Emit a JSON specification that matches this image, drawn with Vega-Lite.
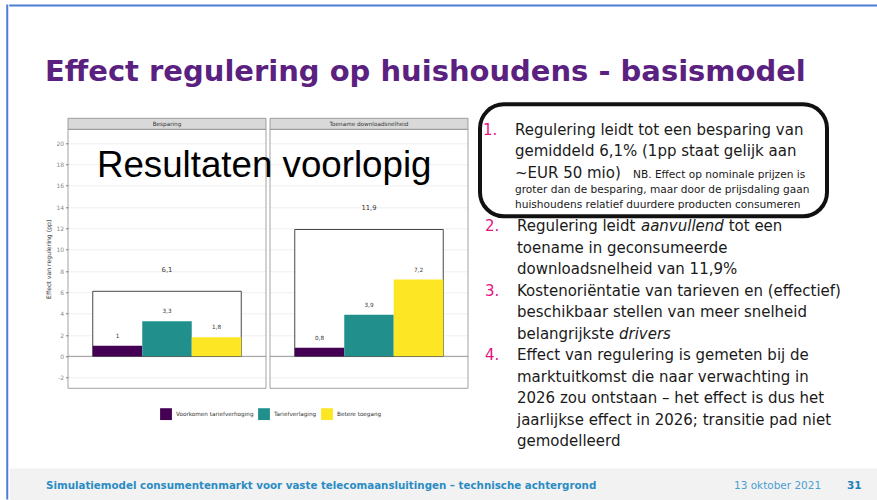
{
  "$schema": "https://vega.github.io/schema/vega-lite/v6.json",
  "background": "white",
  "padding": {"left": 6, "top": 4.3, "right": 0, "bottom": 0},
  "config": {
    "view": {"stroke": null},
    "font": "DejaVu Sans",
    "locale": {"number": {"decimal": ",", "thousands": ".", "grouping": [3], "currency": ["€", ""], "minus": "-"}}
  },
  "datasets": {
    "effecten": [
      {"paneel": "Besparing", "component": "Voorkomen tariefverhoging", "waarde": 1},
      {"paneel": "Besparing", "component": "Tariefverlaging", "waarde": 3.3},
      {"paneel": "Besparing", "component": "Betere toegang", "waarde": 1.8},
      {"paneel": "Toename downloadsnelheid", "component": "Voorkomen tariefverhoging", "waarde": 0.8},
      {"paneel": "Toename downloadsnelheid", "component": "Tariefverlaging", "waarde": 3.9},
      {"paneel": "Toename downloadsnelheid", "component": "Betere toegang", "waarde": 7.2}
    ],
    "punt1": [
      {"regel": 1, "tekst": "Regulering leidt tot een besparing van"},
      {"regel": 2, "tekst": "gemiddeld 6,1% (1pp staat gelijk aan"},
      {"regel": 3, "tekst": "~EUR 50 mio)"}
    ],
    "noot": [
      {"regel": 1, "tekst": "NB. Effect op nominale prijzen is"},
      {"regel": 2, "tekst": "groter dan de besparing, maar door de prijsdaling gaan"},
      {"regel": 3, "tekst": "huishoudens relatief duurdere producten consumeren"}
    ],
    "nummers": [
      {"nr": "1.", "regel": 1},
      {"nr": "2.", "regel": 1},
      {"nr": "3.", "regel": 4},
      {"nr": "4.", "regel": 7}
    ],
    "punten": [
      {"regel": 1, "deel": 1, "tekst": "Regulering leidt"},
      {"regel": 1, "deel": 2, "tekst": "aanvullend"},
      {"regel": 1, "deel": 3, "tekst": "tot een"},
      {"regel": 2, "deel": 1, "tekst": "toename in geconsumeerde"},
      {"regel": 3, "deel": 1, "tekst": "downloadsnelheid van 11,9%"},
      {"regel": 4, "deel": 1, "tekst": "Kostenoriëntatie van tarieven en (effectief)"},
      {"regel": 5, "deel": 1, "tekst": "beschikbaar stellen van meer snelheid"},
      {"regel": 6, "deel": 1, "tekst": "belangrijkste"},
      {"regel": 6, "deel": 2, "tekst": "drivers"},
      {"regel": 7, "deel": 1, "tekst": "Effect van regulering is gemeten bij de"},
      {"regel": 8, "deel": 1, "tekst": "marktuitkomst die naar verwachting in"},
      {"regel": 9, "deel": 1, "tekst": "2026 zou ontstaan – het effect is dus het"},
      {"regel": 10, "deel": 1, "tekst": "jaarlijkse effect in 2026; transitie pad niet"},
      {"regel": 11, "deel": 1, "tekst": "gemodelleerd"}
    ],
    "voet": [
      {"deel": "titel", "tekst": "Simulatiemodel consumentenmarkt voor vaste telecomaansluitingen – technische achtergrond"},
      {"deel": "datum", "tekst": "13 oktober 2021"},
      {"deel": "pagina", "tekst": "31"}
    ]
  },
  "spacing": 0,
  "hconcat": [
    {"width": 0.5, "height": 493.5, "view": {"stroke": "#4a7dd3", "strokeWidth": 1.5}, "data": {"values": []}, "mark": "rule", "encoding": {}},
    {
      "spacing": 50,
      "vconcat": [
        {"width": 867, "height": 0.5, "view": {"stroke": "#4a7dd3", "strokeWidth": 1.5}, "data": {"values": []}, "mark": "rule", "encoding": {}},
        {
          "spacing": 17.3,
          "vconcat": [
            {
              "title": {"text": "Effect regulering op huishoudens - basismodel", "anchor": "start", "frame": "group", "font": "DejaVu Sans", "fontSize": 29, "fontWeight": "bold", "color": "#5b2180", "dx": 35, "offset": 15.7},
              "spacing": 9,
              "hconcat": [
                {"width": 26, "height": 10, "data": {"values": []}, "mark": "rule", "encoding": {}},
                {
                  "data": {"name": "effecten"},
                  "bounds": "flush",
                  "facet": {"column": {"field": "paneel", "type": "nominal", "header": null, "sort": ["Besparing", "Toename downloadsnelheid"]}},
                  "spacing": 4,
                  "spec": {
                    "width": 198,
                    "height": 284,
                    "layer": [
                      {
                        "transform": [{"filter": "datum.component == 'Tariefverlaging'"}],
                        "mark": {"type": "rect", "fillOpacity": 0, "stroke": "#8c8c8c", "strokeWidth": 0.8},
                        "encoding": {"y": {"datum": -3, "type": "quantitative"}, "y2": {"datum": 21.3}}
                      },
                      {
                        "transform": [{"filter": "datum.component == 'Tariefverlaging'"}],
                        "mark": {"type": "rect", "fill": "#d9d9d9", "stroke": "#8c8c8c", "strokeWidth": 0.8},
                        "encoding": {"y": {"datum": 21.3, "type": "quantitative"}, "y2": {"datum": 22.33}}
                      },
                      {
                        "transform": [{"filter": "datum.component == 'Tariefverlaging'"}],
                        "mark": {"type": "text", "fontSize": 5.7, "color": "#333333", "baseline": "middle"},
                        "encoding": {"text": {"field": "paneel"}, "y": {"datum": 21.815, "type": "quantitative"}}
                      },
                      {
                        "transform": [{"filter": "datum.component == 'Tariefverlaging'"}],
                        "mark": {"type": "rule", "color": "#8c8c8c", "strokeWidth": 0.9},
                        "encoding": {"y": {"datum": 0, "type": "quantitative"}}
                      },
                      {
                        "transform": [
                          {"joinaggregate": [{"op": "sum", "field": "waarde", "as": "totaal"}], "groupby": ["paneel"]},
                          {"filter": "datum.component == 'Tariefverlaging'"}
                        ],
                        "mark": {"type": "bar", "width": {"band": 3}, "fill": "white", "stroke": "#333333", "strokeWidth": 0.9},
                        "encoding": {
                          "x": {"field": "component", "type": "nominal", "scale": {"domain": ["Voorkomen tariefverhoging", "Tariefverlaging", "Betere toegang"], "paddingInner": 0, "paddingOuter": 0.5}, "axis": null},
                          "y": {"field": "totaal", "type": "quantitative", "title": "Effect van regulering (pp)"}
                        }
                      },
                      {
                        "mark": {"type": "bar"},
                        "encoding": {
                          "x": {"field": "component", "type": "nominal", "scale": {"domain": ["Voorkomen tariefverhoging", "Tariefverlaging", "Betere toegang"], "paddingInner": 0, "paddingOuter": 0.5}, "axis": null},
                          "y": {
                            "field": "waarde", "type": "quantitative", "title": "Effect van regulering (pp)",
                            "scale": {"domain": [-3, 21.3], "range": [284, 25], "nice": false, "zero": false},
                            "axis": {"values": [-2, 0, 2, 4, 6, 8, 10, 12, 14, 16, 18, 20], "tickCount": 20, "labelOverlap": false, "grid": true, "gridColor": "#ebebeb", "gridWidth": 0.8, "domain": false, "ticks": true, "tickSize": 2.5, "tickColor": "#555555", "tickWidth": 0.8, "labelFontSize": 6, "labelColor": "#8a8a8a", "labelPadding": 2, "titleFontSize": 6.2, "titleFontWeight": "normal", "titleColor": "#333333", "titlePadding": 4}
                          },
                          "color": {
                            "field": "component", "type": "nominal",
                            "scale": {"domain": ["Voorkomen tariefverhoging", "Tariefverlaging", "Betere toegang"], "range": ["#440154", "#21908c", "#fde725"]},
                            "legend": {"orient": "none", "legendX": 153, "legendY": 402.8, "direction": "horizontal", "title": null, "symbolType": "square", "symbolSize": 140, "symbolStrokeWidth": 0, "symbolOpacity": 1, "labelFontSize": 5.7, "labelColor": "#333333", "labelOffset": 4, "columnPadding": 4}
                          }
                        }
                      },
                      {
                        "mark": {"type": "text", "fontSize": 5.7, "color": "#333333", "baseline": "middle", "dy": -10},
                        "encoding": {
                          "x": {"field": "component", "type": "nominal", "scale": {"domain": ["Voorkomen tariefverhoging", "Tariefverlaging", "Betere toegang"], "paddingInner": 0, "paddingOuter": 0.5}, "axis": null},
                          "y": {"field": "waarde", "type": "quantitative"},
                          "text": {"field": "waarde", "type": "quantitative", "format": "~g"}
                        }
                      },
                      {
                        "transform": [
                          {"joinaggregate": [{"op": "sum", "field": "waarde", "as": "totaal"}], "groupby": ["paneel"]},
                          {"filter": "datum.component == 'Tariefverlaging'"}
                        ],
                        "mark": {"type": "text", "fontSize": 6.8, "color": "#333333", "baseline": "middle", "dy": -21},
                        "encoding": {
                          "x": {"field": "component", "type": "nominal", "scale": {"domain": ["Voorkomen tariefverhoging", "Tariefverlaging", "Betere toegang"], "paddingInner": 0, "paddingOuter": 0.5}, "axis": null},
                          "y": {"field": "totaal", "type": "quantitative"},
                          "text": {"field": "totaal", "type": "quantitative", "format": "~g"}
                        }
                      },
                      {
                        "transform": [{"filter": "datum.paneel == 'Toename downloadsnelheid' && datum.component == 'Tariefverlaging'"}],
                        "mark": {"type": "text", "text": "Resultaten voorlopig", "font": "Liberation Sans", "fontSize": 36.7, "color": "#000000", "align": "center", "baseline": "alphabetic", "dx": -104.8},
                        "encoding": {"y": {"datum": 16.87, "type": "quantitative"}}
                      }
                    ]
                  }
                },
                {
                  "spacing": 0,
                  "vconcat": [
                    {
                      "width": 347,
                      "height": 112,
                      "view": {"stroke": "#111111", "strokeWidth": 4, "cornerRadius": 24},
                      "resolve": {"scale": {"y": "independent"}},
                      "layer": [
                        {
                          "data": {"name": "nummers"},
                          "transform": [{"filter": "datum.nr == '1.'"}],
                          "mark": {"type": "text", "align": "left", "baseline": "alphabetic", "fontSize": 15, "color": "#e5137f"},
                          "encoding": {
                            "text": {"field": "nr"},
                            "x": {"datum": 3, "type": "quantitative", "scale": {"domain": [0, 347], "nice": false}, "axis": null},
                            "y": {"field": "regel", "type": "quantitative", "scale": {"domain": [1, 3], "range": [30.3, 73.3], "nice": false, "zero": false}, "axis": null}
                          }
                        },
                        {
                          "data": {"name": "punt1"},
                          "mark": {"type": "text", "align": "left", "baseline": "alphabetic", "fontSize": 15, "color": "#1a1a1a"},
                          "encoding": {
                            "text": {"field": "tekst"},
                            "x": {"datum": 35, "type": "quantitative", "scale": {"domain": [0, 347], "nice": false}, "axis": null},
                            "y": {"field": "regel", "type": "quantitative", "scale": {"domain": [1, 3], "range": [30.3, 73.3], "nice": false, "zero": false}, "axis": null}
                          }
                        },
                        {
                          "data": {"name": "noot"},
                          "transform": [{"filter": "datum.regel == 1"}],
                          "mark": {"type": "text", "align": "left", "baseline": "alphabetic", "fontSize": 10.6, "color": "#1a1a1a"},
                          "encoding": {
                            "text": {"field": "tekst"},
                            "x": {"datum": 153, "type": "quantitative", "scale": {"domain": [0, 347], "nice": false}, "axis": null},
                            "y": {"field": "regel", "type": "quantitative", "scale": {"domain": [1, 3], "range": [73.3, 103.3], "nice": false, "zero": false}, "axis": null}
                          }
                        },
                        {
                          "data": {"name": "noot"},
                          "transform": [{"filter": "datum.regel > 1"}],
                          "mark": {"type": "text", "align": "left", "baseline": "alphabetic", "fontSize": 10.6, "color": "#1a1a1a"},
                          "encoding": {
                            "text": {"field": "tekst"},
                            "x": {"datum": 35, "type": "quantitative", "scale": {"domain": [0, 347], "nice": false}, "axis": null},
                            "y": {"field": "regel", "type": "quantitative", "scale": {"domain": [1, 3], "range": [73.3, 103.3], "nice": false, "zero": false}, "axis": null}
                          }
                        }
                      ]
                    },
                    {
                      "width": 347,
                      "height": 233,
                      "layer": [
                        {
                          "data": {"name": "nummers"},
                          "transform": [{"filter": "datum.nr != '1.'"}],
                          "mark": {"type": "text", "align": "left", "baseline": "alphabetic", "fontSize": 15, "color": "#e5137f"},
                          "encoding": {
                            "text": {"field": "nr"},
                            "x": {"datum": 5, "type": "quantitative", "scale": {"domain": [0, 347], "nice": false}, "axis": null},
                            "y": {"field": "regel", "type": "quantitative", "scale": {"domain": [1, 11], "range": [13, 228], "nice": false, "zero": false}, "axis": null}
                          }
                        },
                        {
                          "data": {"name": "punten"},
                          "transform": [{"filter": "datum.deel == 1"}],
                          "mark": {"type": "text", "align": "left", "baseline": "alphabetic", "fontSize": 15, "color": "#1a1a1a"},
                          "encoding": {
                            "text": {"field": "tekst"},
                            "x": {"datum": 37, "type": "quantitative", "scale": {"domain": [0, 347], "nice": false}, "axis": null},
                            "y": {"field": "regel", "type": "quantitative", "scale": {"domain": [1, 11], "range": [13, 228], "nice": false, "zero": false}, "axis": null}
                          }
                        },
                        {
                          "data": {"name": "punten"},
                          "transform": [{"filter": "datum.regel == 1 && datum.deel == 2"}],
                          "mark": {"type": "text", "align": "left", "baseline": "alphabetic", "fontSize": 15, "fontStyle": "italic", "color": "#1a1a1a"},
                          "encoding": {
                            "text": {"field": "tekst"},
                            "x": {"datum": 161, "type": "quantitative", "scale": {"domain": [0, 347], "nice": false}, "axis": null},
                            "y": {"field": "regel", "type": "quantitative", "scale": {"domain": [1, 11], "range": [13, 228], "nice": false, "zero": false}, "axis": null}
                          }
                        },
                        {
                          "data": {"name": "punten"},
                          "transform": [{"filter": "datum.regel == 1 && datum.deel == 3"}],
                          "mark": {"type": "text", "align": "left", "baseline": "alphabetic", "fontSize": 15, "color": "#1a1a1a"},
                          "encoding": {
                            "text": {"field": "tekst"},
                            "x": {"datum": 248.7, "type": "quantitative", "scale": {"domain": [0, 347], "nice": false}, "axis": null},
                            "y": {"field": "regel", "type": "quantitative", "scale": {"domain": [1, 11], "range": [13, 228], "nice": false, "zero": false}, "axis": null}
                          }
                        },
                        {
                          "data": {"name": "punten"},
                          "transform": [{"filter": "datum.regel == 6 && datum.deel == 2"}],
                          "mark": {"type": "text", "align": "left", "baseline": "alphabetic", "fontSize": 15, "fontStyle": "italic", "color": "#1a1a1a"},
                          "encoding": {
                            "text": {"field": "tekst"},
                            "x": {"datum": 139, "type": "quantitative", "scale": {"domain": [0, 347], "nice": false}, "axis": null},
                            "y": {"field": "regel", "type": "quantitative", "scale": {"domain": [1, 11], "range": [13, 228], "nice": false, "zero": false}, "axis": null}
                          }
                        }
                      ]
                    }
                  ]
                }
              ]
            },
            {
              "width": 867,
              "height": 32.5,
              "view": {"fill": "#f2f2f2", "stroke": null},
              "data": {"name": "voet"},
              "layer": [
                {
                  "transform": [{"filter": "datum.deel == 'titel'"}],
                  "mark": {"type": "text", "align": "left", "baseline": "middle", "fontSize": 10.3, "fontWeight": "bold", "color": "#2a8cc4", "dy": 1.3},
                  "encoding": {"text": {"field": "tekst"}, "x": {"datum": 36, "type": "quantitative", "scale": {"domain": [0, 867], "nice": false}, "axis": null}}
                },
                {
                  "transform": [{"filter": "datum.deel == 'datum'"}],
                  "mark": {"type": "text", "align": "left", "baseline": "middle", "fontSize": 10.5, "color": "#4b9fd1", "dy": 1.3},
                  "encoding": {"text": {"field": "tekst"}, "x": {"datum": 724, "type": "quantitative", "scale": {"domain": [0, 867], "nice": false}, "axis": null}}
                },
                {
                  "transform": [{"filter": "datum.deel == 'pagina'"}],
                  "mark": {"type": "text", "align": "left", "baseline": "middle", "fontSize": 10.5, "fontWeight": "bold", "color": "#2080ba", "dy": 1.3},
                  "encoding": {"text": {"field": "tekst"}, "x": {"datum": 837, "type": "quantitative", "scale": {"domain": [0, 867], "nice": false}, "axis": null}}
                }
              ]
            }
          ]
        }
      ]
    }
  ]
}
